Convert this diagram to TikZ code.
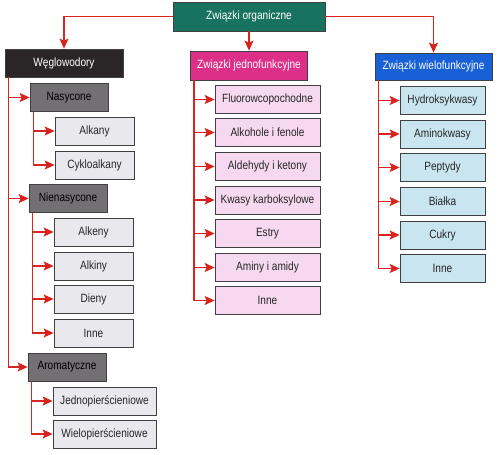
\documentclass[tikz,border=0pt]{standalone}
\usepackage{fontspec}
\setmainfont[FakeStretch=0.84]{Liberation Sans}
\usetikzlibrary{arrows.meta}
\definecolor{cteal}{HTML}{17735F}
\definecolor{cdark}{HTML}{2A2627}
\definecolor{cmag}{HTML}{DE2F88}
\definecolor{cblue}{HTML}{1760D6}
\definecolor{cgray}{HTML}{727073}
\definecolor{clgray}{HTML}{E9E8EC}
\definecolor{cpink}{HTML}{F6D9F0}
\definecolor{clblue}{HTML}{C9E6F0}
\definecolor{cred}{HTML}{D8231F}
\tikzset{
  box/.style={draw=black!75, line width=0.7pt, minimum height=28pt, inner sep=0pt, font=\fontsize{12}{14}\selectfont},
  head/.style={box, text=white},
  midbox/.style={box, fill=cgray, text=black, minimum width=78pt},
  leafgray/.style={box, fill=clgray, text=black!85, minimum width=79pt},
  leafpink/.style={box, fill=cpink, text=black!85, minimum width=105pt},
  leafblue/.style={box, fill=clblue, text=black!85, minimum width=85pt},
  conn/.style={draw=cred, line width=1.5pt, -{Stealth[length=10pt,width=9pt,inset=2pt]}},
}
\begin{document}
\begin{tikzpicture}[x=1pt,y=1pt]
\useasboundingbox (0,0) rectangle (501,-455);
% top
\node[head, fill=cteal, minimum width=152pt, minimum height=29pt] (top) at (249,-16.5) {Związki organiczne};
\node[head, fill=cdark, minimum width=118pt] (weg) at (64,-63) {Węglowodory};
\node[head, fill=cmag, minimum width=117pt, minimum height=29pt] (jed) at (249,-65.5) {Związki jednofunkcyjne};
\node[head, fill=cblue, minimum width=117pt, minimum height=27pt] (wie) at (433.5,-66.5) {Związki wielofunkcyjne};
\draw[conn] (top.west) -| (weg.north);
\draw[conn] (top.south) -- (jed.north);
\draw[conn] (top.east) -| (wie.north);
% left column
\node[midbox] (nas) at (69,-97.5) {Nasycone};
\node[leafgray] (alkany) at (94.5,-131) {Alkany};
\node[leafgray] (cyklo) at (94.5,-165) {Cykloalkany};
\node[midbox] (nien) at (68,-198.5) {Nienasycone};
\node[leafgray] (alkeny) at (93.5,-232) {Alkeny};
\node[leafgray] (alkiny) at (93.5,-266) {Alkiny};
\node[leafgray] (dieny) at (93.5,-299) {Dieny};
\node[leafgray] (inne1) at (93.5,-333) {Inne};
\node[midbox] (arom) at (67,-367) {Aromatyczne};
\node[leafgray, minimum width=103pt] (jedno) at (104.5,-401) {Jednopierścieniowe};
\node[leafgray, minimum width=103pt] (wielo) at (104.5,-434) {Wielopierścieniowe};
\coordinate (wegL) at ([xshift=4pt]weg.south west);
\draw[conn] (wegL) |- (nas.west);
\draw[conn] (wegL) |- (nien.west);
\draw[conn] (wegL) |- (arom.west);
\coordinate (nasL) at ([xshift=4pt]nas.south west);
\draw[conn] (nasL) |- (alkany.west);
\draw[conn] (nasL) |- (cyklo.west);
\coordinate (nienL) at ([xshift=4pt]nien.south west);
\draw[conn] (nienL) |- (alkeny.west);
\draw[conn] (nienL) |- (alkiny.west);
\draw[conn] (nienL) |- (dieny.west);
\draw[conn] (nienL) |- (inne1.west);
\coordinate (aromL) at ([xshift=4pt]arom.south west);
\draw[conn] (aromL) |- (jedno.west);
\draw[conn] (aromL) |- (wielo.west);
% middle column
\node[leafpink] (fl) at (267.5,-99.5) {Fluorowcopochodne};
\node[leafpink] (alk) at (267.5,-132.5) {Alkohole i fenole};
\node[leafpink] (ald) at (267.5,-166.5) {Aldehydy i ketony};
\node[leafpink] (kw) at (267.5,-200) {Kwasy karboksylowe};
\node[leafpink] (es) at (267.5,-233.5) {Estry};
\node[leafpink] (am) at (267.5,-267.5) {Aminy i amidy};
\node[leafpink] (inne2) at (267.5,-300.5) {Inne};
\coordinate (jedL) at ([xshift=4pt]jed.south west);
\foreach \n in {fl,alk,ald,kw,es,am,inne2} \draw[conn] (jedL) |- (\n.west);
% right column
\node[leafblue] (hy) at (442.5,-100.5) {Hydroksykwasy};
\node[leafblue] (amk) at (442.5,-134) {Aminokwasy};
\node[leafblue] (pep) at (442.5,-167.5) {Peptydy};
\node[leafblue] (bia) at (442.5,-201.5) {Białka};
\node[leafblue] (cuk) at (442.5,-235) {Cukry};
\node[leafblue] (inne3) at (442.5,-268.5) {Inne};
\coordinate (wieL) at ([xshift=4pt]wie.south west);
\foreach \n in {hy,amk,pep,bia,cuk,inne3} \draw[conn] (wieL) |- (\n.west);
\end{tikzpicture}
\end{document}
